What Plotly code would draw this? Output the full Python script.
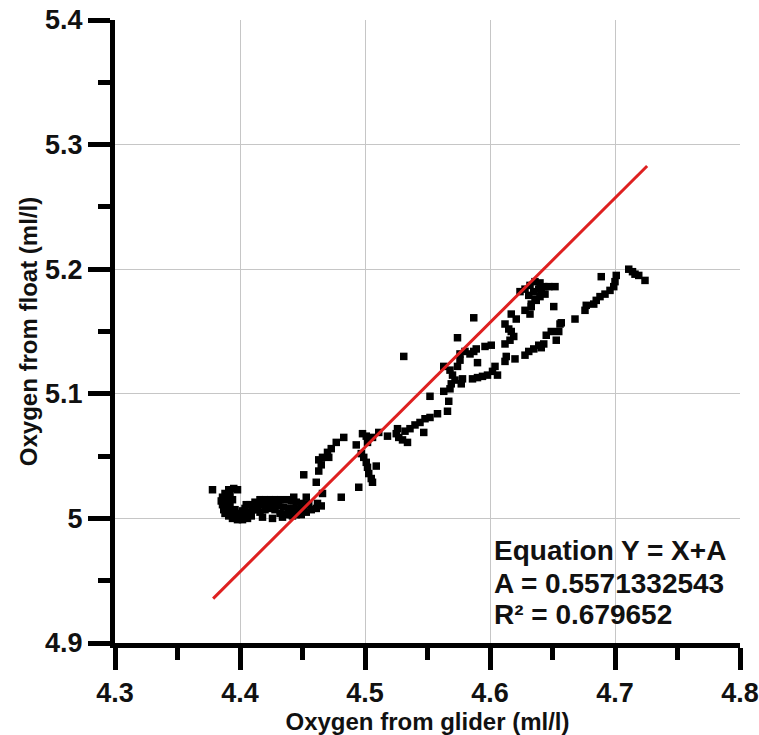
import plotly.graph_objects as go

# Oxygen from glider (x) vs oxygen from float (y)
x_glider = [
    4.378,
    4.395, 4.391, 4.388, 4.386, 4.385, 4.386, 4.387, 4.388, 4.391, 4.394, 4.398, 4.402, 4.406, 4.409,
    4.389, 4.392, 4.396, 4.400, 4.392, 4.396, 4.399, 4.404,
    4.388, 4.391, 4.392, 4.394, 4.389, 4.393, 4.397, 4.402, 4.407, 4.410, 4.405,
    4.398,
    4.404, 4.408, 4.412, 4.416, 4.420, 4.424, 4.428, 4.432, 4.437, 4.441, 4.445, 4.449,
    4.412, 4.416, 4.420, 4.424, 4.428, 4.432, 4.437, 4.441, 4.445, 4.449, 4.453, 4.457, 4.461, 4.465,
    4.414, 4.418, 4.423, 4.426, 4.431, 4.435, 4.439, 4.443, 4.447, 4.451, 4.455,
    4.418, 4.426, 4.434, 4.442,
    4.451, 4.461, 4.443, 4.453, 4.466, 4.462, 4.481, 4.495, 4.463, 4.463, 4.466, 4.470,
    4.473, 4.477, 4.483, 4.471, 4.465,
    4.493, 4.498, 4.501, 4.502, 4.497, 4.499, 4.501, 4.502, 4.509, 4.503, 4.505, 4.506,
    4.506, 4.511, 4.518,
    4.525, 4.526, 4.527, 4.530, 4.534, 4.532, 4.536, 4.540, 4.544, 4.547, 4.548, 4.552,
    4.558, 4.566, 4.567, 4.563, 4.568, 4.552, 4.569, 4.572, 4.570, 4.568, 4.563, 4.577,
    4.578, 4.574, 4.576, 4.576, 4.580, 4.584, 4.587, 4.589, 4.590, 4.574, 4.587, 4.531,
    4.586, 4.590, 4.594, 4.598, 4.602, 4.606, 4.604, 4.612, 4.613, 4.620, 4.628, 4.631,
    4.635, 4.639, 4.641, 4.643, 4.645, 4.649, 4.653, 4.655, 4.656, 4.668, 4.676, 4.677,
    4.683, 4.685, 4.688, 4.692, 4.696, 4.699, 4.700, 4.701, 4.689, 4.711, 4.714, 4.716,
    4.719, 4.724,
    4.596, 4.601, 4.612, 4.616, 4.619, 4.617, 4.615, 4.612, 4.617, 4.621, 4.628, 4.632,
    4.633, 4.636, 4.640, 4.644, 4.647, 4.652, 4.651, 4.624, 4.628, 4.632, 4.636, 4.640,
    4.643, 4.639, 4.635, 4.631, 4.641, 4.633, 4.637, 4.657,
]
y_float = [
    5.023,
    5.024, 5.023, 5.020, 5.017, 5.014, 5.011, 5.007, 5.004, 5.002, 5.000, 4.999, 4.999, 5.000, 5.002,
    5.015, 5.011, 5.007, 5.003, 5.006, 5.003, 5.001, 5.003,
    5.011, 5.015, 5.019, 5.015, 5.007, 5.003, 5.004, 5.006, 5.005, 5.007, 5.011,
    5.023,
    5.008, 5.011, 5.013, 5.015, 5.015, 5.015, 5.015, 5.015, 5.015, 5.014, 5.013, 5.012,
    5.007, 5.005, 5.007, 5.008, 5.007, 5.004, 5.003, 5.003, 5.003, 5.003, 5.005, 5.007, 5.008, 5.010,
    5.010, 5.011, 5.011, 5.011, 5.010, 5.009, 5.008, 5.008, 5.007, 5.008, 5.011,
    5.001, 5.000, 5.001, 5.002,
    5.035, 5.029, 5.017, 5.017, 5.020, 5.012, 5.017, 5.025, 5.038, 5.047, 5.049, 5.053,
    5.056, 5.061, 5.065, 5.049, 5.043,
    5.059, 5.068, 5.066, 5.061, 5.052, 5.049, 5.045, 5.041, 5.042, 5.036, 5.032, 5.029,
    5.065, 5.069, 5.066,
    5.068, 5.072, 5.065, 5.063, 5.061, 5.070, 5.072, 5.075, 5.077, 5.069, 5.080, 5.081,
    5.084, 5.086, 5.094, 5.102, 5.104, 5.098, 5.108, 5.111, 5.115, 5.119, 5.122, 5.108,
    5.112, 5.122, 5.127, 5.132, 5.134, 5.132, 5.134, 5.136, 5.125, 5.145, 5.161, 5.130,
    5.112, 5.113, 5.114, 5.115, 5.118, 5.115, 5.122, 5.126, 5.130, 5.128, 5.131, 5.134,
    5.136, 5.139, 5.137, 5.140, 5.147, 5.150, 5.143, 5.150, 5.156, 5.160, 5.167, 5.171,
    5.172, 5.175, 5.178, 5.180, 5.183, 5.186, 5.190, 5.195, 5.194, 5.200, 5.198, 5.196,
    5.195, 5.191,
    5.138, 5.139, 5.140, 5.143, 5.146, 5.150, 5.152, 5.156, 5.164, 5.160, 5.167, 5.164,
    5.172, 5.176, 5.178, 5.180, 5.186, 5.186, 5.170, 5.182, 5.184, 5.187, 5.190, 5.189,
    5.186, 5.184, 5.182, 5.179, 5.182, 5.170, 5.175, 5.157,
]

# Fit line Y = X + A
A = 0.5571332543
R2 = 0.679652
fit_x = [4.3785, 4.7257]
fit_y = [v + A for v in fit_x]

x_ticks = [4.3, 4.4, 4.5, 4.6, 4.7, 4.8]
y_ticks = [4.9, 5.0, 5.1, 5.2, 5.3, 5.4]
y_tick_labels = ["4.9", "5", "5.1", "5.2", "5.3", "5.4"]

FONT = "Liberation Sans, Arial, sans-serif"

fig = go.Figure()
fig.add_trace(go.Scatter(
    x=x_glider, y=y_float, mode="markers",
    marker=dict(symbol="square", size=7.5, color="black", line=dict(width=0)),
    showlegend=False, hoverinfo="skip",
))
fig.add_trace(go.Scatter(
    x=fit_x, y=fit_y, mode="lines",
    line=dict(color="rgb(222,32,32)", width=3),
    showlegend=False, hoverinfo="skip",
))

axis_common = dict(
    showline=True, linecolor="black", linewidth=5,
    ticks="outside", ticklen=22, tickwidth=5, tickcolor="black",
    showgrid=True, gridcolor="#c6c6c6", gridwidth=1,
    zeroline=False, ticklabeloverflow="allow",
    tickfont=dict(family=FONT, size=27, color="#111111", weight="bold"),
)

fig.update_xaxes(
    range=[4.3, 4.8], tickvals=x_ticks, ticktext=[f"{v:.1f}" for v in x_ticks],
    title=dict(text="Oxygen from glider (ml/l)", standoff=6,
               font=dict(family=FONT, size=24, color="#111111", weight="bold")),
    minor=dict(ticks="outside", ticklen=12, tickwidth=5, tickcolor="black",
               showgrid=False, dtick=0.05, tick0=4.3),
    **axis_common,
)
fig.update_yaxes(
    range=[4.9, 5.4], tickvals=y_ticks, ticktext=y_tick_labels,
    title=dict(text="Oxygen from float (ml/l)", standoff=2,
               font=dict(family=FONT, size=24, color="#111111", weight="bold")),
    minor=dict(ticks="outside", ticklen=12, tickwidth=5, tickcolor="black",
               showgrid=False, dtick=0.05, tick0=4.9),
    **axis_common,
)

ann_font = dict(family=FONT, size=28, color="#111111", weight="bold")
for txt, yp in [("Equation Y = X+A", 0.149), (f"A = {A}", 0.096), (f"R² = {R2}", 0.045)]:
    fig.add_annotation(text=txt, xref="paper", yref="paper", x=0.603, y=yp,
                       xanchor="left", yanchor="middle", showarrow=False, font=ann_font)

fig.update_layout(
    width=759, height=735,
    margin=dict(l=115, r=19, t=20, b=92, autoexpand=False),
    plot_bgcolor="white", paper_bgcolor="white",
)

# Remove the default page margin so the figure fills the window exactly.
fig.write_html(
    "out.html",
    config={"displayModeBar": False},
    post_script="document.body.style.margin='0';document.body.style.overflow='hidden';",
)
